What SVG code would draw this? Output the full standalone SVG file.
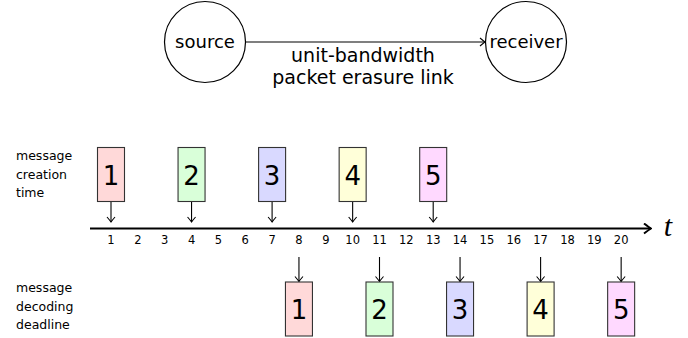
<svg xmlns="http://www.w3.org/2000/svg" width="688" height="338" viewBox="0 0 688 338">
<defs>
<style>
.node{fill:#fff;stroke:#000;stroke-width:1.2}
.lbl{font-family:"DejaVu Sans",sans-serif;fill:#000}
.box{stroke:#333;stroke-width:1.1}
.dig{font-family:"DejaVu Sans",sans-serif;font-size:26px;text-anchor:middle;fill:#000}
.tick{font-family:"DejaVu Sans",sans-serif;font-size:11.5px;text-anchor:middle;fill:#000}
.side{font-family:"DejaVu Sans",sans-serif;font-size:12.5px;fill:#000}
.conn{stroke:#000;stroke-width:1.1;fill:none}
.c1{fill:#ffd9d9}.c2{fill:#d9ffd9}.c3{fill:#d9d9ff}.c4{fill:#ffffd9}.c5{fill:#ffd9ff}
</style>
<marker id="to" viewBox="-6 -5 7 10" refX="0" refY="0" markerWidth="7" markerHeight="10" markerUnits="userSpaceOnUse" orient="auto">
<path d="M-5,-4 Q-1.5,-1 0,0 Q-1.5,1 -5,4" fill="none" stroke="#000" stroke-width="1.1"/>
</marker>
<marker id="toThick" viewBox="-8 -6 9 12" refX="0" refY="0" markerWidth="9" markerHeight="12" markerUnits="userSpaceOnUse" orient="auto">
<path d="M-7,-5 Q-2,-1.2 0,0 Q-2,1.2 -7,5" fill="none" stroke="#000" stroke-width="2"/>
</marker>
</defs>

<g id="source">
<circle class="node" cx="205" cy="42" r="40.5"/>
<text class="lbl" x="205" y="48" font-size="18" text-anchor="middle">source</text>
</g>
<g id="receiver">
<circle class="node" cx="526" cy="42" r="40.5"/>
<text class="lbl" x="526" y="48" font-size="18" text-anchor="middle">receiver</text>
</g>

<g id="connectors">
<line class="conn" x1="245.5" y1="42" x2="485" y2="42" marker-end="url(#to)"/>
<line x1="90" y1="228.5" x2="651" y2="228.5" stroke="#000" stroke-width="2.2" marker-end="url(#toThick)"/>
<line class="conn" x1="111" y1="202" x2="111" y2="222" marker-end="url(#to)"/>
<line class="conn" x1="191.55" y1="202" x2="191.55" y2="222" marker-end="url(#to)"/>
<line class="conn" x1="272.1" y1="202" x2="272.1" y2="222" marker-end="url(#to)"/>
<line class="conn" x1="352.65" y1="202" x2="352.65" y2="222" marker-end="url(#to)"/>
<line class="conn" x1="433.2" y1="202" x2="433.2" y2="222" marker-end="url(#to)"/>
<line class="conn" x1="298.95" y1="257" x2="298.95" y2="281.5" marker-end="url(#to)"/>
<line class="conn" x1="379.5" y1="257" x2="379.5" y2="281.5" marker-end="url(#to)"/>
<line class="conn" x1="460.05" y1="257" x2="460.05" y2="281.5" marker-end="url(#to)"/>
<line class="conn" x1="540.6" y1="257" x2="540.6" y2="281.5" marker-end="url(#to)"/>
<line class="conn" x1="621.15" y1="257" x2="621.15" y2="281.5" marker-end="url(#to)"/>
</g>

<g id="link-label">
<text class="lbl" x="363" y="62" font-size="19" text-anchor="middle">unit-bandwidth</text>
<text class="lbl" x="363" y="84" font-size="19" text-anchor="middle">packet erasure link</text>
</g>

<g id="axis-label">
<text x="668" y="236" font-family="'Liberation Serif',serif" font-style="italic" font-size="30" text-anchor="middle">t</text>
</g>

<g id="ticks">
<text class="tick" x="111" y="244">1</text>
<text class="tick" x="137.85" y="244">2</text>
<text class="tick" x="164.7" y="244">3</text>
<text class="tick" x="191.55" y="244">4</text>
<text class="tick" x="218.4" y="244">5</text>
<text class="tick" x="245.25" y="244">6</text>
<text class="tick" x="272.1" y="244">7</text>
<text class="tick" x="298.95" y="244">8</text>
<text class="tick" x="325.8" y="244">9</text>
<text class="tick" x="352.65" y="244">10</text>
<text class="tick" x="379.5" y="244">11</text>
<text class="tick" x="406.35" y="244">12</text>
<text class="tick" x="433.2" y="244">13</text>
<text class="tick" x="460.05" y="244">14</text>
<text class="tick" x="486.9" y="244">15</text>
<text class="tick" x="513.75" y="244">16</text>
<text class="tick" x="540.6" y="244">17</text>
<text class="tick" x="567.45" y="244">18</text>
<text class="tick" x="594.3" y="244">19</text>
<text class="tick" x="621.15" y="244">20</text>
</g>

<g id="creation-label">
<text class="side" x="16" y="160">message</text>
<text class="side" x="16" y="178.5">creation</text>
<text class="side" x="16" y="197">time</text>
</g>
<g id="deadline-label">
<text class="side" x="16" y="292">message</text>
<text class="side" x="16" y="310.5">decoding</text>
<text class="side" x="16" y="329">deadline</text>
</g>

<g id="create-1"><rect class="box c1" x="97.5" y="147.5" width="27" height="54"/><text class="dig" x="111" y="184.5">1</text></g>
<g id="create-2"><rect class="box c2" x="178.05" y="147.5" width="27" height="54"/><text class="dig" x="191.55" y="184.5">2</text></g>
<g id="create-3"><rect class="box c3" x="258.6" y="147.5" width="27" height="54"/><text class="dig" x="272.1" y="184.5">3</text></g>
<g id="create-4"><rect class="box c4" x="339.15" y="147.5" width="27" height="54"/><text class="dig" x="352.65" y="184.5">4</text></g>
<g id="create-5"><rect class="box c5" x="419.7" y="147.5" width="27" height="54"/><text class="dig" x="433.2" y="184.5">5</text></g>

<g id="deadline-1"><rect class="box c1" x="285.45" y="282" width="27" height="54"/><text class="dig" x="298.95" y="319">1</text></g>
<g id="deadline-2"><rect class="box c2" x="366" y="282" width="27" height="54"/><text class="dig" x="379.5" y="319">2</text></g>
<g id="deadline-3"><rect class="box c3" x="446.55" y="282" width="27" height="54"/><text class="dig" x="460.05" y="319">3</text></g>
<g id="deadline-4"><rect class="box c4" x="527.1" y="282" width="27" height="54"/><text class="dig" x="540.6" y="319">4</text></g>
<g id="deadline-5"><rect class="box c5" x="607.65" y="282" width="27" height="54"/><text class="dig" x="621.15" y="319">5</text></g>
</svg>
